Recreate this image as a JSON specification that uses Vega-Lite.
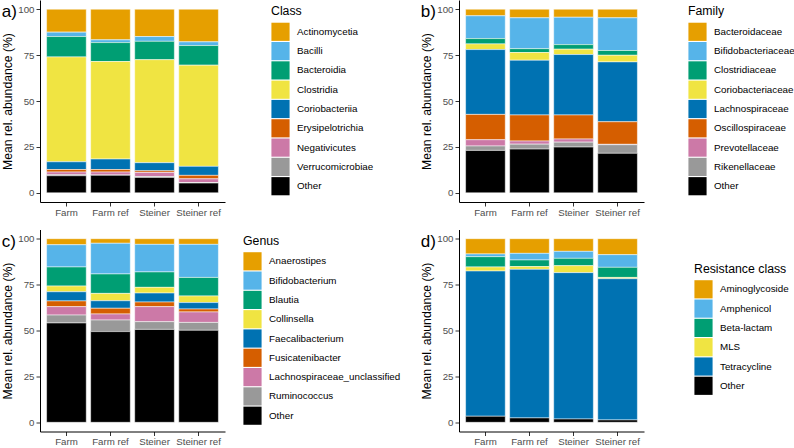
{
  "$schema": "https://vega.github.io/schema/vega-lite/v6.json",
  "background": "white",
  "padding": {"left": 1, "top": 0, "right": 0, "bottom": 0},
  "columns": 2,
  "bounds": "flush",
  "spacing": {"row": 27.5, "column": 234},
  "datasets": {
    "class": [
      {"group": "Farm", "taxon": "Actinomycetia", "rank": 1, "value": 12.5},
      {"group": "Farm", "taxon": "Bacilli", "rank": 2, "value": 2.4},
      {"group": "Farm", "taxon": "Bacteroidia", "rank": 3, "value": 11.1},
      {"group": "Farm", "taxon": "Clostridia", "rank": 4, "value": 57.1},
      {"group": "Farm", "taxon": "Coriobacteriia", "rank": 5, "value": 4.2},
      {"group": "Farm", "taxon": "Erysipelotrichia", "rank": 6, "value": 1.4},
      {"group": "Farm", "taxon": "Negativicutes", "rank": 7, "value": 1.5},
      {"group": "Farm", "taxon": "Verrucomicrobiae", "rank": 8, "value": 0.5},
      {"group": "Farm", "taxon": "Other", "rank": 9, "value": 9.3},
      {"group": "Farm ref", "taxon": "Actinomycetia", "rank": 1, "value": 16.7},
      {"group": "Farm ref", "taxon": "Bacilli", "rank": 2, "value": 1.5},
      {"group": "Farm ref", "taxon": "Bacteroidia", "rank": 3, "value": 10.3},
      {"group": "Farm ref", "taxon": "Clostridia", "rank": 4, "value": 53.1},
      {"group": "Farm ref", "taxon": "Coriobacteriia", "rank": 5, "value": 5.7},
      {"group": "Farm ref", "taxon": "Erysipelotrichia", "rank": 6, "value": 1.4},
      {"group": "Farm ref", "taxon": "Negativicutes", "rank": 7, "value": 1.6},
      {"group": "Farm ref", "taxon": "Verrucomicrobiae", "rank": 8, "value": 0.2},
      {"group": "Farm ref", "taxon": "Other", "rank": 9, "value": 9.5},
      {"group": "Steiner", "taxon": "Actinomycetia", "rank": 1, "value": 14.9},
      {"group": "Steiner", "taxon": "Bacilli", "rank": 2, "value": 2.6},
      {"group": "Steiner", "taxon": "Bacteroidia", "rank": 3, "value": 10.0},
      {"group": "Steiner", "taxon": "Clostridia", "rank": 4, "value": 56.1},
      {"group": "Steiner", "taxon": "Coriobacteriia", "rank": 5, "value": 4.4},
      {"group": "Steiner", "taxon": "Erysipelotrichia", "rank": 6, "value": 0.9},
      {"group": "Steiner", "taxon": "Negativicutes", "rank": 7, "value": 2.2},
      {"group": "Steiner", "taxon": "Verrucomicrobiae", "rank": 8, "value": 0.5},
      {"group": "Steiner", "taxon": "Other", "rank": 9, "value": 8.4},
      {"group": "Steiner ref", "taxon": "Actinomycetia", "rank": 1, "value": 17.8},
      {"group": "Steiner ref", "taxon": "Bacilli", "rank": 2, "value": 2.0},
      {"group": "Steiner ref", "taxon": "Bacteroidia", "rank": 3, "value": 10.7},
      {"group": "Steiner ref", "taxon": "Clostridia", "rank": 4, "value": 55.1},
      {"group": "Steiner ref", "taxon": "Coriobacteriia", "rank": 5, "value": 4.9},
      {"group": "Steiner ref", "taxon": "Erysipelotrichia", "rank": 6, "value": 1.9},
      {"group": "Steiner ref", "taxon": "Negativicutes", "rank": 7, "value": 2.0},
      {"group": "Steiner ref", "taxon": "Verrucomicrobiae", "rank": 8, "value": 0.3},
      {"group": "Steiner ref", "taxon": "Other", "rank": 9, "value": 5.3}
    ],
    "family": [
      {"group": "Farm", "taxon": "Bacteroidaceae", "rank": 1, "value": 3.6},
      {"group": "Farm", "taxon": "Bifidobacteriaceae", "rank": 2, "value": 12.4},
      {"group": "Farm", "taxon": "Clostridiaceae", "rank": 3, "value": 2.9},
      {"group": "Farm", "taxon": "Coriobacteriaceae", "rank": 4, "value": 3.1},
      {"group": "Farm", "taxon": "Lachnospiraceae", "rank": 5, "value": 35.3},
      {"group": "Farm", "taxon": "Oscillospiraceae", "rank": 6, "value": 13.8},
      {"group": "Farm", "taxon": "Prevotellaceae", "rank": 7, "value": 3.4},
      {"group": "Farm", "taxon": "Rikenellaceae", "rank": 8, "value": 2.4},
      {"group": "Farm", "taxon": "Other", "rank": 9, "value": 23.1},
      {"group": "Farm ref", "taxon": "Bacteroidaceae", "rank": 1, "value": 4.7},
      {"group": "Farm ref", "taxon": "Bifidobacteriaceae", "rank": 2, "value": 16.8},
      {"group": "Farm ref", "taxon": "Clostridiaceae", "rank": 3, "value": 2.1},
      {"group": "Farm ref", "taxon": "Coriobacteriaceae", "rank": 4, "value": 4.2},
      {"group": "Farm ref", "taxon": "Lachnospiraceae", "rank": 5, "value": 29.8},
      {"group": "Farm ref", "taxon": "Oscillospiraceae", "rank": 6, "value": 14.2},
      {"group": "Farm ref", "taxon": "Prevotellaceae", "rank": 7, "value": 1.7},
      {"group": "Farm ref", "taxon": "Rikenellaceae", "rank": 8, "value": 2.7},
      {"group": "Farm ref", "taxon": "Other", "rank": 9, "value": 23.8},
      {"group": "Steiner", "taxon": "Bacteroidaceae", "rank": 1, "value": 4.4},
      {"group": "Steiner", "taxon": "Bifidobacteriaceae", "rank": 2, "value": 14.9},
      {"group": "Steiner", "taxon": "Clostridiaceae", "rank": 3, "value": 2.5},
      {"group": "Steiner", "taxon": "Coriobacteriaceae", "rank": 4, "value": 2.9},
      {"group": "Steiner", "taxon": "Lachnospiraceae", "rank": 5, "value": 32.9},
      {"group": "Steiner", "taxon": "Oscillospiraceae", "rank": 6, "value": 13.1},
      {"group": "Steiner", "taxon": "Prevotellaceae", "rank": 7, "value": 1.7},
      {"group": "Steiner", "taxon": "Rikenellaceae", "rank": 8, "value": 2.7},
      {"group": "Steiner", "taxon": "Other", "rank": 9, "value": 24.9},
      {"group": "Steiner ref", "taxon": "Bacteroidaceae", "rank": 1, "value": 4.7},
      {"group": "Steiner ref", "taxon": "Bifidobacteriaceae", "rank": 2, "value": 17.8},
      {"group": "Steiner ref", "taxon": "Clostridiaceae", "rank": 3, "value": 2.6},
      {"group": "Steiner ref", "taxon": "Coriobacteriaceae", "rank": 4, "value": 3.6},
      {"group": "Steiner ref", "taxon": "Lachnospiraceae", "rank": 5, "value": 32.6},
      {"group": "Steiner ref", "taxon": "Oscillospiraceae", "rank": 6, "value": 12.3},
      {"group": "Steiner ref", "taxon": "Prevotellaceae", "rank": 7, "value": 0.2},
      {"group": "Steiner ref", "taxon": "Rikenellaceae", "rank": 8, "value": 4.7},
      {"group": "Steiner ref", "taxon": "Other", "rank": 9, "value": 21.5}
    ],
    "genus": [
      {"group": "Farm", "taxon": "Anaerostipes", "rank": 1, "value": 3.3},
      {"group": "Farm", "taxon": "Bifidobacterium", "rank": 2, "value": 12.1},
      {"group": "Farm", "taxon": "Blautia", "rank": 3, "value": 10.4},
      {"group": "Farm", "taxon": "Collinsella", "rank": 4, "value": 3.1},
      {"group": "Farm", "taxon": "Faecalibacterium", "rank": 5, "value": 5.0},
      {"group": "Farm", "taxon": "Fusicatenibacter", "rank": 6, "value": 3.1},
      {"group": "Farm", "taxon": "Lachnospiraceae_unclassified", "rank": 7, "value": 4.6},
      {"group": "Farm", "taxon": "Ruminococcus", "rank": 8, "value": 4.3},
      {"group": "Farm", "taxon": "Other", "rank": 9, "value": 54.1},
      {"group": "Farm ref", "taxon": "Anaerostipes", "rank": 1, "value": 2.5},
      {"group": "Farm ref", "taxon": "Bifidobacterium", "rank": 2, "value": 16.7},
      {"group": "Farm ref", "taxon": "Blautia", "rank": 3, "value": 10.6},
      {"group": "Farm ref", "taxon": "Collinsella", "rank": 4, "value": 4.0},
      {"group": "Farm ref", "taxon": "Faecalibacterium", "rank": 5, "value": 4.1},
      {"group": "Farm ref", "taxon": "Fusicatenibacter", "rank": 6, "value": 3.1},
      {"group": "Farm ref", "taxon": "Lachnospiraceae_unclassified", "rank": 7, "value": 3.3},
      {"group": "Farm ref", "taxon": "Ruminococcus", "rank": 8, "value": 6.3},
      {"group": "Farm ref", "taxon": "Other", "rank": 9, "value": 49.4},
      {"group": "Steiner", "taxon": "Anaerostipes", "rank": 1, "value": 3.1},
      {"group": "Steiner", "taxon": "Bifidobacterium", "rank": 2, "value": 15.0},
      {"group": "Steiner", "taxon": "Blautia", "rank": 3, "value": 8.4},
      {"group": "Steiner", "taxon": "Collinsella", "rank": 4, "value": 3.1},
      {"group": "Steiner", "taxon": "Faecalibacterium", "rank": 5, "value": 4.9},
      {"group": "Steiner", "taxon": "Fusicatenibacter", "rank": 6, "value": 2.5},
      {"group": "Steiner", "taxon": "Lachnospiraceae_unclassified", "rank": 7, "value": 8.2},
      {"group": "Steiner", "taxon": "Ruminococcus", "rank": 8, "value": 4.2},
      {"group": "Steiner", "taxon": "Other", "rank": 9, "value": 50.6},
      {"group": "Steiner ref", "taxon": "Anaerostipes", "rank": 1, "value": 3.1},
      {"group": "Steiner ref", "taxon": "Bifidobacterium", "rank": 2, "value": 18.0},
      {"group": "Steiner ref", "taxon": "Blautia", "rank": 3, "value": 10.1},
      {"group": "Steiner ref", "taxon": "Collinsella", "rank": 4, "value": 3.6},
      {"group": "Steiner ref", "taxon": "Faecalibacterium", "rank": 5, "value": 3.5},
      {"group": "Steiner ref", "taxon": "Fusicatenibacter", "rank": 6, "value": 1.6},
      {"group": "Steiner ref", "taxon": "Lachnospiraceae_unclassified", "rank": 7, "value": 5.7},
      {"group": "Steiner ref", "taxon": "Ruminococcus", "rank": 8, "value": 4.3},
      {"group": "Steiner ref", "taxon": "Other", "rank": 9, "value": 50.1}
    ],
    "resistance": [
      {"group": "Farm", "taxon": "Aminoglycoside", "rank": 1, "value": 8.3},
      {"group": "Farm", "taxon": "Amphenicol", "rank": 2, "value": 1.5},
      {"group": "Farm", "taxon": "Beta-lactam", "rank": 3, "value": 5.6},
      {"group": "Farm", "taxon": "MLS", "rank": 4, "value": 2.2},
      {"group": "Farm", "taxon": "Tetracycline", "rank": 5, "value": 79.1},
      {"group": "Farm", "taxon": "Other", "rank": 6, "value": 3.3},
      {"group": "Farm ref", "taxon": "Aminoglycoside", "rank": 1, "value": 8.0},
      {"group": "Farm ref", "taxon": "Amphenicol", "rank": 2, "value": 3.6},
      {"group": "Farm ref", "taxon": "Beta-lactam", "rank": 3, "value": 3.6},
      {"group": "Farm ref", "taxon": "MLS", "rank": 4, "value": 1.5},
      {"group": "Farm ref", "taxon": "Tetracycline", "rank": 5, "value": 80.9},
      {"group": "Farm ref", "taxon": "Other", "rank": 6, "value": 2.4},
      {"group": "Steiner", "taxon": "Aminoglycoside", "rank": 1, "value": 6.9},
      {"group": "Steiner", "taxon": "Amphenicol", "rank": 2, "value": 3.8},
      {"group": "Steiner", "taxon": "Beta-lactam", "rank": 3, "value": 4.0},
      {"group": "Steiner", "taxon": "MLS", "rank": 4, "value": 3.8},
      {"group": "Steiner", "taxon": "Tetracycline", "rank": 5, "value": 79.7},
      {"group": "Steiner", "taxon": "Other", "rank": 6, "value": 1.8},
      {"group": "Steiner ref", "taxon": "Aminoglycoside", "rank": 1, "value": 8.7},
      {"group": "Steiner ref", "taxon": "Amphenicol", "rank": 2, "value": 6.9},
      {"group": "Steiner ref", "taxon": "Beta-lactam", "rank": 3, "value": 5.5},
      {"group": "Steiner ref", "taxon": "MLS", "rank": 4, "value": 0.7},
      {"group": "Steiner ref", "taxon": "Tetracycline", "rank": 5, "value": 76.9},
      {"group": "Steiner ref", "taxon": "Other", "rank": 6, "value": 1.3}
    ]
  },
  "concat": [
    {
      "data": {"name": "class"},
      "width": 185,
      "height": 202,
      "title": {"text": "a)"},
      "mark": {"type": "bar", "stroke": "white", "strokeWidth": 0.5},
      "encoding": {
        "x": {"field": "group", "type": "nominal", "sort": ["Farm", "Farm ref", "Steiner", "Steiner ref"], "scale": {"paddingInner": 0.1, "paddingOuter": 0.15}, "axis": {"title": null}},
        "y": {"field": "value", "type": "quantitative", "stack": "zero", "scale": {"domain": [-5, 105], "nice": false, "zero": false}, "axis": {"values": [0, 25, 50, 75, 100], "title": "Mean rel. abundance (%)"}},
        "color": {
          "field": "taxon", "type": "nominal",
          "scale": {
            "domain": ["Actinomycetia", "Bacilli", "Bacteroidia", "Clostridia", "Coriobacteriia", "Erysipelotrichia", "Negativicutes", "Verrucomicrobiae", "Other"],
            "range": ["#E69F00", "#56B4E9", "#009E73", "#F0E442", "#0072B2", "#D55E00", "#CC79A7", "#999999", "#000000"]
          },
          "legend": {"title": "Class", "orient": "none", "legendX": 231, "legendY": 5}
        },
        "order": {"field": "rank", "sort": "descending"}
      }
    },
    {
      "data": {"name": "family"},
      "width": 185,
      "height": 202,
      "title": {"text": "b)"},
      "mark": {"type": "bar", "stroke": "white", "strokeWidth": 0.5},
      "encoding": {
        "x": {"field": "group", "type": "nominal", "sort": ["Farm", "Farm ref", "Steiner", "Steiner ref"], "scale": {"paddingInner": 0.1, "paddingOuter": 0.15}, "axis": {"title": null}},
        "y": {"field": "value", "type": "quantitative", "stack": "zero", "scale": {"domain": [-5, 105], "nice": false, "zero": false}, "axis": {"values": [0, 25, 50, 75, 100], "title": "Mean rel. abundance (%)"}},
        "color": {
          "field": "taxon", "type": "nominal",
          "scale": {
            "domain": ["Bacteroidaceae", "Bifidobacteriaceae", "Clostridiaceae", "Coriobacteriaceae", "Lachnospiraceae", "Oscillospiraceae", "Prevotellaceae", "Rikenellaceae", "Other"],
            "range": ["#E69F00", "#56B4E9", "#009E73", "#F0E442", "#0072B2", "#D55E00", "#CC79A7", "#999999", "#000000"]
          },
          "legend": {"title": "Family", "orient": "none", "legendX": 229, "legendY": 5}
        },
        "order": {"field": "rank", "sort": "descending"}
      }
    },
    {
      "data": {"name": "genus"},
      "width": 185,
      "height": 202,
      "title": {"text": "c)"},
      "mark": {"type": "bar", "stroke": "white", "strokeWidth": 0.5},
      "encoding": {
        "x": {"field": "group", "type": "nominal", "sort": ["Farm", "Farm ref", "Steiner", "Steiner ref"], "scale": {"paddingInner": 0.1, "paddingOuter": 0.15}, "axis": {"title": null}},
        "y": {"field": "value", "type": "quantitative", "stack": "zero", "scale": {"domain": [-5, 105], "nice": false, "zero": false}, "axis": {"values": [0, 25, 50, 75, 100], "title": "Mean rel. abundance (%)"}},
        "color": {
          "field": "taxon", "type": "nominal",
          "scale": {
            "domain": ["Anaerostipes", "Bifidobacterium", "Blautia", "Collinsella", "Faecalibacterium", "Fusicatenibacter", "Lachnospiraceae_unclassified", "Ruminococcus", "Other"],
            "range": ["#E69F00", "#56B4E9", "#009E73", "#F0E442", "#0072B2", "#D55E00", "#CC79A7", "#999999", "#000000"]
          },
          "legend": {"title": "Genus", "orient": "none", "legendX": 203, "legendY": 5}
        },
        "order": {"field": "rank", "sort": "descending"}
      }
    },
    {
      "data": {"name": "resistance"},
      "width": 185,
      "height": 202,
      "title": {"text": "d)"},
      "mark": {"type": "bar", "stroke": "white", "strokeWidth": 0.5},
      "encoding": {
        "x": {"field": "group", "type": "nominal", "sort": ["Farm", "Farm ref", "Steiner", "Steiner ref"], "scale": {"paddingInner": 0.1, "paddingOuter": 0.15}, "axis": {"title": null}},
        "y": {"field": "value", "type": "quantitative", "stack": "zero", "scale": {"domain": [-5, 105], "nice": false, "zero": false}, "axis": {"values": [0, 25, 50, 75, 100], "title": "Mean rel. abundance (%)"}},
        "color": {
          "field": "taxon", "type": "nominal",
          "scale": {
            "domain": ["Aminoglycoside", "Amphenicol", "Beta-lactam", "MLS", "Tetracycline", "Other"],
            "range": ["#E69F00", "#56B4E9", "#009E73", "#F0E442", "#0072B2", "#000000"]
          },
          "legend": {"title": "Resistance class", "orient": "none", "legendX": 235, "legendY": 33}
        },
        "order": {"field": "rank", "sort": "descending"}
      }
    }
  ],
  "resolve": {"scale": {"color": "independent", "x": "independent", "y": "independent"}},
  "config": {
    "font": "Liberation Sans",
    "view": {"stroke": null},
    "axis": {
      "grid": false,
      "domainColor": "black",
      "domainWidth": 1,
      "tickColor": "#333333",
      "tickWidth": 1,
      "tickSize": 4,
      "labelFont": "Liberation Sans",
      "labelFontSize": 9.7,
      "labelColor": "#4D4D4D",
      "labelPadding": 2,
      "titleFont": "Liberation Sans",
      "titleFontSize": 12.2,
      "titleFontWeight": "normal",
      "titleColor": "black",
      "titlePadding": 3
    },
    "axisX": {"labelAngle": 0, "labelPadding": 1},
    "legend": {
      "titleFont": "Liberation Sans",
      "titleFontSize": 12.3,
      "titleFontWeight": "normal",
      "titleColor": "black",
      "titlePadding": 5,
      "labelFont": "Liberation Sans",
      "labelFontSize": 9.8,
      "labelColor": "black",
      "labelOffset": 7,
      "symbolType": "square",
      "symbolSize": 330,
      "symbolStrokeWidth": 0,
      "symbolOpacity": 1,
      "rowPadding": 0.3,
      "padding": 0
    },
    "title": {
      "font": "Liberation Sans",
      "fontSize": 17,
      "fontWeight": "normal",
      "color": "black",
      "anchor": "start",
      "frame": "bounds",
      "offset": 0,
      "dy": 25
    }
  }
}
